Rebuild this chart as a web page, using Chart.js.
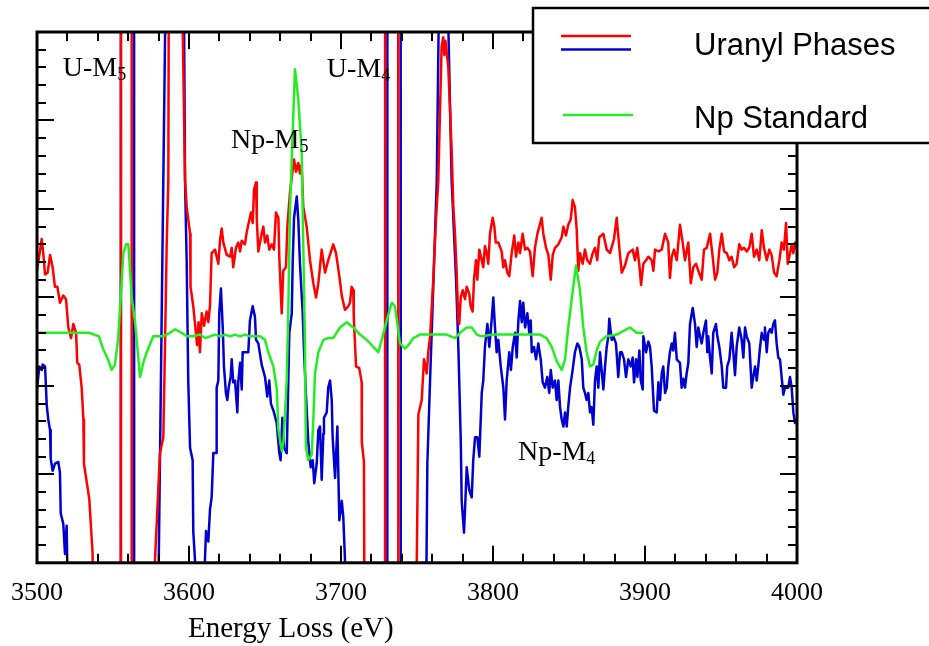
<!DOCTYPE html>
<html>
<head>
<meta charset="utf-8">
<script src="https://cdn.jsdelivr.net/npm/chart.js@4.4.0/dist/chart.umd.min.js"></script>
<style>
  html, body { margin: 0; padding: 0; background: #fff; }
</style>
</head>
<body>
<canvas id="myChart" width="929" height="646"></canvas>
<script>
// x tick labels (eV)
const xTickLabels = [3500, 3600, 3700, 3800, 3900, 4000];

// Uranyl phase 1 (red): [energy loss eV, intensity a.u.]; +-300 marks data far off scale
const redPts = [
  [3500,16.5],[3503.1,18.3],[3504.1,17.5],[3505.3,16.3],[3507.0,16.4],[3508.6,17.4],[3510.3,16.7],[3511.8,15.6],
  [3513.4,15.6],[3515.1,14.7],[3517.3,15.1],[3519.1,14.9],[3520.6,13.3],[3522.4,12.7],[3523.9,13.5],[3525.7,13.0],
  [3526.5,11.3],[3527.8,11.2],[3529.4,9.9],[3530.5,8.1],[3530.9,5.6],[3534.4,3.6],[3536.6,0.5],[3538,-60],
  [3554.8,-300],[3555.6,330],[3561.9,330],[3562.7,-300],[3566,-300],[3574.9,-4.9],[3580.9,6.2],[3583.1,7.1],
  [3584.2,12.2],[3585.3,17.9],[3586.4,21.6],[3587.5,60],[3594.5,60],[3595.9,30.0],[3597.4,21.6],[3598.5,20.1],
  [3600.7,18.6],[3601.0,15.6],[3602.8,14.5],[3604.3,13.2],[3605.3,12.3],[3606.3,13.6],[3607.2,11.9],[3608.4,14.1],
  [3609.9,13.4],[3611.6,14.2],[3612.7,13.6],[3613.8,14.5],[3614.9,17.5],[3617.1,17.7],[3619.3,16.9],[3620.4,18.2],
  [3621.5,18.9],[3622.6,18.1],[3624.8,17.4],[3627.0,17.3],[3628.1,17.8],[3629.1,16.7],[3630.9,17.8],[3632.4,18.1],
  [3633.6,17.6],[3634.7,18.2],[3636.8,18.0],[3638.0,18.7],[3639.5,19.3],[3640.8,19.8],[3641.9,19.2],[3642.8,21.1],
  [3644.1,21.5],[3644.6,19.4],[3645.6,17.6],[3647.8,18.6],[3648.9,19.0],[3650.0,18.1],[3651.5,18.5],[3652.8,17.7],
  [3654.4,18.0],[3655.9,17.7],[3657.2,19.8],[3658.8,19.5],[3659.4,17.3],[3661.0,14.1],[3662.0,16.5],[3663.8,16.7],
  [3664.7,19.0],[3666.4,20.9],[3667.8,21.9],[3669.1,22.8],[3670.4,22.1],[3671.9,22.6],[3673.0,22.0],[3674.1,22.5],
  [3675.2,20.1],[3677.4,19.0],[3679.6,17.1],[3681.8,15.8],[3683.6,15.0],[3685.1,15.8],[3687.3,17.7],[3689.5,16.4],
  [3691.6,17.1],[3694.9,18.0],[3696.7,17.5],[3698.9,16.2],[3700.5,15.1],[3702.6,14.3],[3704.8,14.5],[3705.9,14.7],
  [3707.0,15.6],[3708.1,15.4],[3708.4,13.9],[3709.9,11.1],[3712.0,11.0],[3713.6,10.2],[3713.7,6.8],[3715.1,5.7],
  [3715.3,0.2],[3716,-60],[3728.6,-300],[3729.4,330],[3737.3,330],[3738.1,-300],[3744,-300],[3749.6,-2],
  [3750.9,8.4],[3753.1,9.2],[3754.6,11.5],[3756.4,10.7],[3757.4,11.9],[3758.6,12.8],[3760.7,16.0],[3762.5,19.4],
  [3764.0,21.6],[3766.2,29.2],[3767.3,29.7],[3768.0,28.7],[3768.7,29.5],[3770.6,28.0],[3772.8,23.3],[3773.9,20.1],
  [3775.0,18.6],[3776.1,16.4],[3777.2,13.7],[3777.8,13.5],[3778.8,15.0],[3780.1,15.4],[3781.6,14.9],[3782.7,15.6],
  [3784.4,15.2],[3785.3,14.5],[3786.6,14.2],[3787.5,16.0],[3788.8,17.1],[3789.7,16.0],[3791.0,17.7],[3792.6,17.1],
  [3793.6,16.7],[3794.7,17.9],[3795.9,17.5],[3796.9,16.9],[3798.0,18.6],[3799.8,19.5],[3800.9,19.0],[3801.8,18.1],
  [3803.5,18.1],[3805.7,17.6],[3806.8,16.7],[3807.9,17.1],[3809.4,16.4],[3810.7,16.2],[3812.3,17.5],[3814.0,18.5],
  [3815.1,17.3],[3816.7,18.1],[3817.8,17.5],[3819.5,18.6],[3821.1,17.7],[3822.6,17.8],[3824.3,17.6],[3826.1,16.2],
  [3827.6,17.8],[3829.2,18.6],[3830.5,19.0],[3832.0,19.5],[3833.1,18.6],[3834.9,17.8],[3836.4,17.4],[3838.0,16.0],
  [3839.3,17.4],[3840.8,17.8],[3843.0,18.0],[3845.2,18.4],[3846.3,19.0],[3848.0,18.5],[3849.5,19.1],[3851.1,19.4],
  [3852.4,20.5],[3853.9,20.1],[3855.1,18.8],[3856.1,16.5],[3857.2,17.5],[3859.0,16.9],[3860.5,17.7],[3862.0,17.1],
  [3863.8,16.9],[3865.6,17.5],[3867.1,17.8],[3868.6,17.1],[3869.9,18.4],[3872.6,18.6],[3874.8,17.7],[3877.0,17.5],
  [3879.6,18.3],[3881.4,19.5],[3883.1,17.8],[3884.7,16.4],[3886.8,16.8],[3889.0,17.5],[3891.9,17.7],[3893.4,17.1],
  [3894.9,17.8],[3896.2,16.9],[3897.4,15.7],[3898.9,16.9],[3900.7,17.1],[3902.2,17.3],[3904.4,17.1],[3905.5,16.5],
  [3906.6,17.7],[3908.8,17.6],[3911.0,17.7],[3913.2,18.6],[3915.3,18.1],[3916.4,16.1],[3917.6,17.3],[3919.1,17.7],
  [3920.9,17.1],[3923.0,19.1],[3924.8,18.1],[3926.3,17.1],[3928.5,18.1],[3930.1,15.8],[3931.8,16.7],[3933.6,16.9],
  [3935.1,16.5],[3937.3,16.0],[3938.8,17.7],[3940.6,17.8],[3942.8,18.6],[3944.5,17.3],[3946.1,16.0],[3947.6,16.4],
  [3948.9,17.7],[3950.5,18.6],[3952.0,17.6],[3953.8,17.5],[3955.5,17.1],[3957.0,17.3],[3958.6,16.7],[3960.3,16.9],
  [3962.0,18.0],[3963.6,17.7],[3965.1,17.8],[3966.9,17.6],[3968.6,17.8],[3970.2,18.6],[3971.7,17.3],[3973.5,17.7],
  [3975.2,17.1],[3976.8,18.8],[3978.3,17.8],[3980.1,17.1],[3981.8,17.7],[3983.3,17.4],[3984.9,16.4],[3986.6,16.2],
  [3988.4,17.1],[3989.9,18.1],[3991.4,17.7],[3992.8,19.2],[3993.9,16.9],[3995.4,17.5],[3996.5,18.0],[3997.6,17.5],
  [3998.7,18.1],[4000,17.7]
];

// Uranyl phase 2 (blue)
const bluePts = [
  [3500,9.8],[3501.5,11.1],[3503.1,10.9],[3503.7,11.2],[3505.3,11.1],[3506.4,8.9],[3507.4,8.1],[3508.6,7.5],
  [3509.0,5.9],[3510.3,5.2],[3511.8,5.6],[3514.0,5.7],[3515.1,5.1],[3515.6,2.8],[3517.3,2.2],[3518.4,0.5],
  [3519.5,2.1],[3519.9,0.0],[3521,-40],[3540,-300],[3554.8,-300],[3555.6,330],[3563.5,330],[3564.3,-300],
  [3570,-300],[3579.9,-1.3],[3583.1,21.6],[3584.5,31.5],[3586,60],[3595.0,60],[3596.8,30.0],[3597.4,21.6],
  [3598.5,16.9],[3599.5,10.3],[3600.7,6.5],[3602.4,5.8],[3602.8,1.8],[3603.9,0.2],[3607,-6],[3610.5,0.2],
  [3611.2,1.8],[3612.7,1.2],[3613.8,3.0],[3614.9,3.7],[3616.0,6.2],[3617.8,6.2],[3618.2,9.9],[3619.3,10.3],
  [3619.9,14.1],[3621.0,15.5],[3622.2,13.3],[3623.0,11.1],[3624.3,9.6],[3625.2,9.2],[3626.1,9.9],[3627.4,10.5],
  [3628.1,11.5],[3629.1,10.2],[3630.3,10.3],[3631.8,8.5],[3632.4,10.2],[3633.6,11.3],[3634.7,9.8],[3635.3,11.9],
  [3636.8,11.9],[3639.0,11.9],[3640.1,13.7],[3641.9,14.5],[3643.4,13.9],[3644.1,12.6],[3645.6,12.4],[3647.8,11.2],
  [3650.0,10.5],[3651.5,9.4],[3652.8,10.3],[3653.9,9.0],[3655.9,8.5],[3657.7,7.9],[3659.4,6.2],[3660.3,5.8],
  [3661.4,8.2],[3662.5,6.5],[3664.3,6.2],[3664.9,8.5],[3666.0,13.0],[3667.6,14.1],[3668.2,16.9],[3669.1,19.5],
  [3670.9,20.7],[3671.9,19.4],[3673.0,16.9],[3674.8,14.1],[3675.7,11.9],[3677.0,9.4],[3678.5,6.8],[3680.1,5.4],
  [3681.4,5.8],[3682.4,4.5],[3684.0,5.6],[3685.1,7.5],[3686.2,7.7],[3687.3,4.7],[3688.4,7.3],[3688.8,8.2],
  [3690.6,8.5],[3691.6,9.9],[3692.8,10.3],[3693.9,9.2],[3694.5,7.1],[3696.1,4.8],[3697.6,7.7],[3698.9,2.4],
  [3700.5,3.5],[3701.5,2.6],[3702.6,0.2],[3704,-5],[3720,-300],[3730.1,-300],[3730.9,330],[3738.9,330],
  [3739.7,-300],[3748,-300],[3756.2,-0.4],[3756.8,5.6],[3758.6,10.3],[3760.7,15.6],[3763.0,21.6],[3764.2,30],
  [3765.5,45],[3770,45],[3770.7,30.0],[3772.8,21.6],[3775.7,16.0],[3777.2,12.2],[3778.8,6.9],[3779.4,3.5],
  [3780.9,1.7],[3781.6,3.0],[3782.7,5.4],[3784.4,4.1],[3786.0,3.7],[3787.0,5.8],[3788.2,7.1],[3789.7,7.1],
  [3791.0,6.0],[3792.6,9.6],[3793.6,10.3],[3794.7,12.2],[3796.3,13.5],[3797.6,12.2],[3799.1,13.7],[3800.2,15.0],
  [3801.3,13.3],[3802.4,11.9],[3803.5,12.6],[3805.1,11.1],[3806.8,9.9],[3807.9,8.1],[3809.0,10.3],[3810.7,11.9],
  [3811.8,10.9],[3813.0,12.2],[3814.5,13.0],[3815.6,11.6],[3816.7,13.7],[3817.8,14.8],[3818.9,13.6],[3819.9,14.7],
  [3821.1,13.3],[3822.6,14.1],[3823.9,13.0],[3824.8,13.7],[3825.5,11.9],[3827.0,12.2],[3828.3,11.5],[3829.8,12.4],
  [3831.4,11.5],[3832.7,10.2],[3834.2,9.9],[3835.7,10.5],[3837.0,9.6],[3838.0,10.9],[3839.3,9.9],[3840.8,10.3],
  [3841.9,9.2],[3843.0,10.3],[3844.1,8.8],[3845.2,8.1],[3846.3,7.7],[3847.4,8.5],[3848.5,7.7],[3849.5,8.8],
  [3850.7,9.9],[3852.4,10.9],[3853.9,11.9],[3855.5,12.4],[3856.8,12.2],[3858.4,11.5],[3859.4,9.9],[3860.5,9.6],
  [3861.6,9.2],[3862.7,9.6],[3863.8,8.5],[3864.9,8.8],[3866.0,7.8],[3867.1,10.3],[3868.2,11.1],[3869.3,9.9],
  [3870.4,11.9],[3872.6,9.8],[3873.7,11.1],[3874.8,12.2],[3875.9,12.8],[3876.5,13.8],[3878.1,12.6],[3879.2,12.8],
  [3880.9,12.4],[3882.4,10.5],[3883.6,11.9],[3884.7,11.9],[3886.2,11.5],[3887.5,10.5],[3889.0,11.5],[3890.6,11.1],
  [3891.9,11.6],[3892.8,10.2],[3894.1,11.5],[3895.0,10.5],[3896.3,12.0],[3897.2,10.3],[3898.5,9.8],[3898.9,12.8],
  [3900.7,11.9],[3902.2,12.5],[3903.3,12.2],[3904.4,11.1],[3905.9,8.6],[3907.7,8.5],[3908.8,10.2],[3909.9,9.2],
  [3911.0,10.7],[3912.0,11.1],[3913.2,9.6],[3914.3,9.9],[3915.3,11.1],[3916.4,11.9],[3917.6,12.4],[3918.6,12.0],
  [3919.7,13.0],[3920.9,11.5],[3921.9,11.4],[3923.0,11.3],[3924.1,9.9],[3925.2,10.4],[3926.3,9.9],[3927.4,10.7],
  [3928.5,11.3],[3929.6,13.5],[3931.4,14.4],[3932.9,13.5],[3934.0,12.2],[3935.1,13.3],[3936.2,12.8],[3937.3,12.4],
  [3938.4,13.0],[3940.1,13.7],[3941.0,11.9],[3941.6,12.8],[3942.8,11.6],[3943.9,10.7],[3944.9,13.0],[3946.7,13.5],
  [3947.6,12.8],[3948.9,12.2],[3950.5,11.1],[3951.5,9.9],[3953.3,9.9],[3954.1,11.1],[3955.5,11.5],[3957.0,13.0],
  [3958.1,11.9],[3959.2,10.6],[3960.3,12.2],[3962.0,13.3],[3963.6,12.6],[3964.7,11.6],[3965.8,13.3],[3966.9,12.8],
  [3968.6,12.4],[3970.2,9.9],[3971.2,10.5],[3972.4,11.1],[3973.5,10.3],[3974.5,11.1],[3975.7,12.2],[3976.8,13.0],
  [3978.3,12.6],[3978.9,13.3],[3980.1,11.9],[3981.1,13.0],[3982.2,13.2],[3983.3,13.0],[3984.4,13.5],[3985.5,13.7],
  [3986.6,12.4],[3987.7,11.6],[3988.8,11.5],[3989.9,10.5],[3991.0,9.5],[3992.1,9.9],[3993.2,9.9],[3994.3,9.9],
  [3995.4,10.5],[3996.5,9.9],[3997.6,8.5],[3998.7,7.9],[4000,8.1]
];

// Np standard (green)
const greenPts = [
  [3500,13.0],[3534.2,13.0],[3540.8,12.8],[3543.4,12.1],[3546.7,11.5],[3549.1,10.9],[3551.3,11.2],[3553.3,12.6],
  [3555.1,15.0],[3556.8,17.5],[3558.6,18.0],[3560.1,18.0],[3562.3,15.0],[3564.5,13.6],[3567.8,10.5],[3569.9,11.3],
  [3572.2,11.9],[3576.5,12.8],[3582.9,12.8],[3587.5,13.0],[3590.8,13.2],[3595.2,13.0],[3598.5,12.8],[3602.6,12.8],
  [3607.2,12.9],[3610.5,12.7],[3613.8,12.8],[3617.1,12.9],[3620.4,12.8],[3623.7,12.9],[3627,12.8],[3630.3,12.9],
  [3633.6,12.8],[3636.9,12.9],[3640.1,12.8],[3646.7,12.8],[3650,12.6],[3652.2,11.9],[3655.5,11.1],[3657.8,9.8],
  [3658.8,7.5],[3661.1,6.3],[3662.2,6.9],[3664.3,10.3],[3665.3,14.1],[3666.4,19.8],[3667.8,23.3],[3669.7,27.9],
  [3671.9,26.2],[3674.1,23.3],[3675.2,17.9],[3676.3,12.2],[3676.9,6.5],[3678.5,5.8],[3680.7,6.1],[3681.8,8.1],
  [3682.9,10.7],[3685.1,11.9],[3688.4,12.6],[3691.4,12.7],[3694.9,12.7],[3699.3,13.3],[3703.8,13.6],[3708.1,13.3],
  [3712.5,12.9],[3716.9,12.6],[3721.3,12.2],[3724.5,11.9],[3726.8,12.6],[3730.1,13.7],[3733.4,14.7],[3735.5,14.5],
  [3738.8,12.4],[3742.1,12.1],[3744.3,12.3],[3747.6,12.7],[3752,12.9],[3769.5,12.9],[3775,12.7],[3778.3,13.0],
  [3782.7,13.3],[3786,13.3],[3789.3,12.9],[3792.6,12.8],[3800.2,12.9],[3830.9,12.9],[3835.3,12.7],[3838.6,12.2],
  [3841.9,11.4],[3845.2,10.9],[3847.4,11.5],[3849.5,13.3],[3851.8,14.9],[3854.6,16.8],[3857.2,15.4],[3859.4,13.3],
  [3861.6,11.9],[3863.8,11.1],[3866,11.2],[3868.2,12.0],[3870.4,12.5],[3874.8,12.8],[3881.4,12.9],[3890.1,13.3],
  [3894.5,13.0],[3898.9,13.0]
];

const seriesNames = ['Uranyl Phases', 'Np Standard'];
const edgeNames = ['U-M', 'Np-M', 'U-M', 'Np-M'];
const edgeSubs = ['5', '5', '4', '4'];

const toXY = pts => pts.map(p => ({ x: p[0], y: p[1] }));

// where the edge labels sit, in data units (left edge, baseline)
const edgeAnchors = [[3516.9, 27.5], [3627.6, 23.45], [3690.6, 27.45], [3816.4, 5.8]];

const frameAndLabels = {
  id: 'frameAndLabels',
  beforeDraw(chart) {
    const ctx = chart.ctx;
    ctx.save();
    ctx.fillStyle = '#fff';
    ctx.fillRect(0, 0, chart.width, chart.height);
    ctx.restore();
  },
  afterDatasetsDraw(chart) {
    const { ctx, chartArea: a, scales: { x, y } } = chart;
    ctx.save();
    ctx.strokeStyle = '#000';
    ctx.lineCap = 'butt';

    const seg = (x1, y1, x2, y2) => { ctx.beginPath(); ctx.moveTo(x1, y1); ctx.lineTo(x2, y2); ctx.stroke(); };

    // inward ticks, minor every 20 eV / 1 unit
    ctx.lineWidth = 2;
    for (let e = x.min; e <= x.max; e += 20) {
      const px = Math.round(x.getPixelForValue(e));
      const len = e % 100 === 0 ? 17 : 9;
      seg(px, a.bottom, px, a.bottom - len);
      seg(px, a.top, px, a.top + len);
    }
    for (let v = y.min; v <= y.max; v += 1) {
      const py = Math.round(y.getPixelForValue(v));
      const len = v % 5 === 0 ? 17 : 9;
      seg(a.left, py, a.left + len, py);
      seg(a.right, py, a.right - len, py);
    }
    ctx.lineWidth = 3;
    ctx.strokeRect(a.left, a.top, a.right - a.left, a.bottom - a.top);

    // edge labels
    ctx.fillStyle = '#000';
    ctx.textBaseline = 'alphabetic';
    ctx.textAlign = 'left';
    edgeNames.forEach((name, i) => {
      const px = x.getPixelForValue(edgeAnchors[i][0]);
      const py = y.getPixelForValue(edgeAnchors[i][1]);
      ctx.font = '28px "Liberation Serif"';
      ctx.fillText(name, px, py);
      const w = ctx.measureText(name).width;
      ctx.font = '18px "Liberation Serif"';
      ctx.fillText(edgeSubs[i], px + w, py + 4);
    });

    // x axis title (sits left of centre in the original)
    ctx.font = '29px "Liberation Serif"';
    ctx.fillText('Energy Loss (eV)', 188, 637);

    // legend box, overlapping the top right corner
    ctx.fillStyle = '#fff';
    ctx.fillRect(533, 8, 420, 135);
    ctx.lineWidth = 2.5;
    ctx.strokeRect(533, 8, 420, 135);
    ctx.lineWidth = 2.5;
    ctx.strokeStyle = '#ff0000';
    seg(561, 36, 631, 36);
    ctx.strokeStyle = '#0000d0';
    seg(561, 49.5, 631, 49.5);
    ctx.strokeStyle = '#22ee22';
    seg(563, 115, 633, 115);
    ctx.fillStyle = '#000';
    ctx.font = '31px "Liberation Sans"';
    ctx.fillText(seriesNames[0], 694, 55);
    ctx.fillText(seriesNames[1], 694, 128);
    ctx.restore();
  }
};

new Chart(document.getElementById('myChart').getContext('2d'), {
  type: 'line',
  data: {
    datasets: [
      { label: 'Np Standard', data: toXY(greenPts), borderColor: '#22ee22', borderWidth: 2.5 },
      { label: 'Uranyl Phases (1)', data: toXY(redPts), borderColor: '#ff0000', borderWidth: 2.5 },
      { label: 'Uranyl Phases (2)', data: toXY(bluePts), borderColor: '#0000d0', borderWidth: 2.5 }
    ]
  },
  options: {
    responsive: false,
    animation: false,
    devicePixelRatio: 1,
    layout: { padding: { left: 37, top: 32, right: 132, bottom: 22 } },
    elements: { point: { radius: 0 }, line: { tension: 0, fill: false, borderJoinStyle: 'round' } },
    plugins: { legend: { display: false }, tooltip: { enabled: false } },
    scales: {
      x: {
        type: 'linear',
        min: 3500,
        max: 4000,
        afterBuildTicks: axis => { axis.ticks = xTickLabels.map(v => ({ value: v })); },
        afterFit: axis => { axis.paddingLeft = 0; axis.paddingRight = 0; },
        ticks: {
          padding: 15,
          color: '#000',
          maxRotation: 0,
          autoSkip: false,
          callback: v => String(v),
          font: { family: 'Liberation Serif', size: 26 }
        },
        grid: { display: false, drawTicks: false },
        border: { display: false }
      },
      y: { min: 0, max: 30, display: false }
    }
  },
  plugins: [frameAndLabels]
});
</script>
</body>
</html>
